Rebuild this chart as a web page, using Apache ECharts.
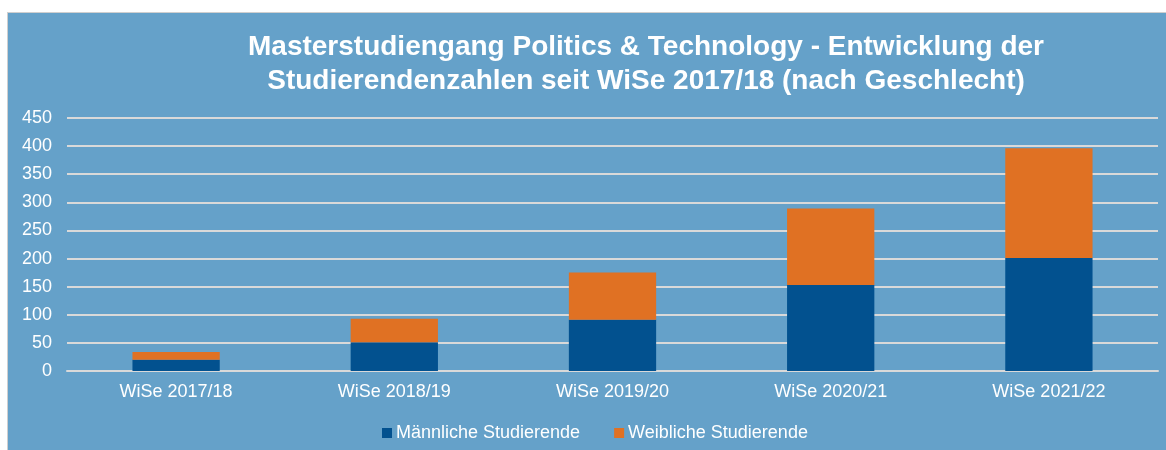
<!DOCTYPE html>
<html>
<head>
<meta charset="utf-8">
<script src="https://cdn.jsdelivr.net/npm/echarts@6/dist/echarts.min.js"></script>
<style>
  html, body { margin: 0; padding: 0; background: #ffffff; }
  #panel { position: absolute; left: 7px; top: 12px; width: 1159px; height: 438px;
           background: #65a1c9; border-left: 1px solid #cfcfcf; border-top: 1px solid #cfcfcf; }
  #chart { position: absolute; left: 0; top: 0; width: 1166px; height: 450px; }
</style>
</head>
<body>
<div id="panel"></div>
<div id="chart"></div>
<script>
const categories = ['WiSe 2017/18', 'WiSe 2018/19', 'WiSe 2019/20', 'WiSe 2020/21', 'WiSe 2021/22'];
const maleValues = [20, 51, 91, 153, 201];
const femaleValues = [14, 42, 84, 136, 195];
const seriesNames = ['Männliche Studierende', 'Weibliche Studierende'];
const titleLines = ['Masterstudiengang Politics & Technology - Entwicklung der', 'Studierendenzahlen seit WiSe 2017/18 (nach Geschlecht)'];

const chart = echarts.init(document.getElementById('chart'), null, { renderer: 'canvas' });
const fontFamily = '"Liberation Sans", Arial, sans-serif';
chart.setOption({
  backgroundColor: 'transparent',
  animation: false,
  graphic: [{
    type: 'text',
    x: 646,
    y: 64,
    style: {
      text: titleLines.join('\n'),
      fill: '#ffffff',
      font: 'bold 28px ' + fontFamily,
      lineHeight: 34,
      textAlign: 'center',
      textVerticalAlign: 'middle'
    }
  }],
  grid: { left: 67, right: 8, top: 118, bottom: 79, containLabel: false },
  legend: {
    left: 377,
    top: 419,
    itemWidth: 10,
    itemHeight: 10,
    itemGap: 34,
    icon: 'rect',
    textStyle: { color: '#ffffff', fontSize: 18, fontFamily: fontFamily, padding: [0, 0, 0, -1] },
    data: seriesNames
  },
  xAxis: {
    type: 'category',
    data: categories,
    axisLine: { show: true, lineStyle: { color: '#d9d9d9', width: 2 } },
    axisTick: { show: false },
    axisLabel: { color: '#ffffff', fontSize: 18, fontFamily: fontFamily, margin: 12 }
  },
  yAxis: {
    type: 'value',
    min: 0,
    max: 450,
    interval: 50,
    axisLine: { show: false },
    axisTick: { show: false },
    axisLabel: { color: '#ffffff', fontSize: 18, fontFamily: fontFamily, margin: 15 },
    splitLine: { show: true, lineStyle: { color: '#d9d9d9', width: 2 } }
  },
  series: [
    {
      name: seriesNames[0],
      type: 'bar',
      stack: 'total',
      data: maleValues,
      barWidth: '40%',
      itemStyle: { color: '#02518f' }
    },
    {
      name: seriesNames[1],
      type: 'bar',
      stack: 'total',
      data: femaleValues,
      barWidth: '40%',
      itemStyle: { color: '#e07123' }
    }
  ]
});
</script>
</body>
</html>
